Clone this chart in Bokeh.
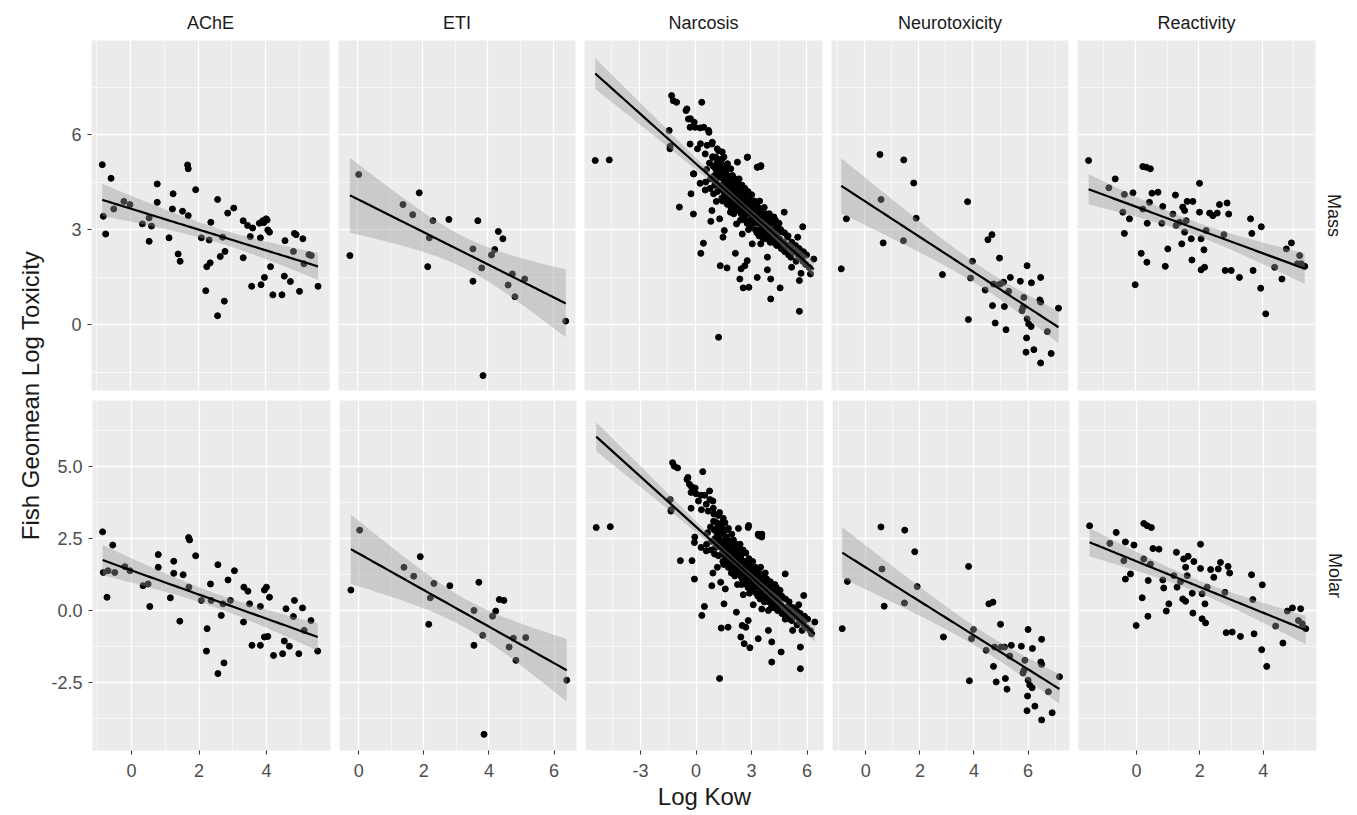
import math
import numpy as np
from bokeh.plotting import figure
from bokeh.layouts import row, column
from bokeh.models import Range1d, FixedTicker, PrintfTickFormatter, Title, LinearAxis, Grid
from bokeh.embed import file_html
from bokeh.resources import INLINE
from bokeh.core.properties import value

FONT = "Liberation Sans"

# ---------------- data ----------------
categories = ["AChE", "ETI", "Narcosis", "Neurotoxicity", "Reactivity"]
row_labels = ["Mass", "Molar"]
x_title = "Log Kow"
y_title = "Fish Geomean Log Toxicity"

ache_mass_x = [-0.84, -0.58, -0.81, -0.74, -0.5, -0.2, -0.02, 0.35, 0.55, 0.62,
               0.55, 0.79, 0.79, 1.14, 1.26, 1.24, 1.41, 1.47, 1.54, 1.71,
               1.69, 1.71, 1.93, 2.1, 2.23, 2.26, 2.36, 2.33, 2.38, 2.58,
               2.58, 2.66, 2.8, 2.78, 2.73, 2.88, 3.06, 3.34, 3.34, 3.47,
               3.55, 3.59, 3.62, 3.82, 3.87, 3.85, 3.97, 3.92, 4.02, 4.07,
               4.12, 4.15, 4.22, 4.49, 4.56, 4.58, 4.74, 4.83, 4.86, 4.91,
               5.01, 5.11, 5.14, 5.29, 5.36, 5.56, 4.05, 3.95]
ache_mass_y = [5.05, 4.62, 3.42, 2.86, 3.65, 3.89, 3.79, 3.18, 3.37, 3.11,
               2.63, 4.44, 3.86, 2.74, 4.13, 3.65, 2.23, 2.0, 3.58, 3.44,
               5.04, 4.92, 4.26, 2.74, 1.07, 1.83, 1.95, 2.67, 3.23, 3.95,
               0.28, 2.15, 2.31, 0.74, 2.76, 3.52, 3.68, 3.28, 2.11, 3.13,
               2.78, 1.21, 3.05, 3.2, 1.26, 2.74, 1.49, 3.28, 3.34, 2.99,
               2.92, 1.83, 0.94, 0.94, 1.53, 2.65, 1.36, 2.31, 2.88, 2.84,
               1.05, 2.71, 1.92, 2.21, 2.18, 1.21, 3.3, 3.22]
ache_molar_x = [-0.86, -0.56, -0.73, -0.84, -0.7, -0.5, -0.2, -0.05, 0.34, 0.49,
                0.54, 0.79, 0.79, 1.15, 1.25, 1.25, 1.43, 1.53, 1.69, 1.9,
                1.7, 2.07, 2.22, 2.24, 2.34, 2.36, 2.56, 2.56, 2.66, 2.74,
                2.71, 2.86, 2.93, 3.05, 3.32, 3.33, 3.45, 3.5, 3.57, 3.82,
                3.82, 3.94, 4.0, 4.09, 4.04, 3.94, 4.21, 4.48, 4.53, 4.58,
                4.68, 4.8, 4.83, 4.96, 5.07, 5.12, 5.32, 5.52, 1.72]
ache_molar_y = [2.73, 2.27, 0.46, 1.32, 1.38, 1.32, 1.52, 1.38, 0.86, 0.92,
                0.14, 1.94, 1.5, 0.44, 1.71, 1.29, -0.37, 1.24, 2.53, 1.9,
                0.81, 0.35, -1.41, -0.63, 0.92, 0.35, 1.59, -2.19, -0.17, -1.82,
                0.23, 1.06, 0.35, 1.38, -0.4, 0.81, 0.67, 0.23, -1.21, -1.21,
                0.14, 0.71, 0.81, 0.46, -0.9, -0.92, -1.56, -1.5, -1.06, 0.06,
                -1.24, -0.21, 0.35, -1.5, 0.09, -0.69, -0.35, -1.41, 2.45]

eti_x = [-0.24, 0.03, 1.39, 1.69, 1.89, 2.15, 2.2, 2.31, 2.8, 3.54,
         3.54, 3.69, 3.81, 3.85, 4.11, 4.21, 4.32, 4.46, 4.62, 4.75,
         4.83, 5.13, 6.39]
eti_mass = [2.18, 4.74, 3.79, 3.47, 4.16, 1.83, 2.74, 3.28, 3.32, 1.37,
            2.39, 3.28, 1.79, -1.61, 2.2, 2.37, 2.94, 2.71, 1.25, 1.6,
            0.88, 1.44, 0.11]
eti_molar = [0.71, 2.79, 1.5, 1.19, 1.87, -0.48, 0.44, 0.94, 0.86, -1.21,
             0.0, 0.98, -0.86, -4.3, -0.2, -0.02, 0.38, 0.35, -1.27, -0.96,
             -1.73, -0.94, -2.42]

narc_outer_x = [-5.4, -4.64, -1.36, -1.4, -1.27, -1.18, -1.0, 0.36, -0.49, -0.36,
                -0.27, -0.05, 0.27, 0.73, -0.27, 0.13, 0.55, 0.91, 0.96, 1.27,
                1.45, 2.82, 3.36, 3.55, -0.09, 0.27, 0.55, -0.22, -0.85, -0.09,
                1.0, 1.15, 0.91, 0.85, 1.33, 0.45, 0.31, 1.58, 1.51, 1.36,
                1.73, 2.18, 2.49, 2.42, 2.6, 2.91, 2.69, 2.82, 3.36, 3.91,
                3.91, 4.09, 4.09, 4.6, 5.18, 5.22, 5.64, 5.64, 5.73, 6.24,
                6.42, 5.82, 5.55, 4.82, 1.27, 2.24, 2.55, 3.09, 3.55, 4.64,
                4.82, 5.0, 1.91, 2.0]
narc_outer_mass = [5.18, 5.2, 5.55, 6.13, 7.23, 7.07, 7.02, 7.02, 6.76, 6.49,
                   6.23, 6.39, 6.21, 6.13, 5.7, 5.55, 5.39, 5.7, 5.28, 5.49,
                   5.23, 5.28, 4.97, 4.99, 4.76, 4.46, 4.25, 4.13, 3.71, 3.49,
                   4.13, 3.89, 3.6, 3.26, 3.34, 2.57, 2.25, 2.97, 2.76, 1.86,
                   1.79, 2.25, 1.76, 1.44, 1.16, 1.18, 1.86, 2.02, 1.49, 2.13,
                   1.73, 1.44, 0.81, 1.16, 2.13, 1.81, 1.39, 0.42, 1.62, 1.6,
                   2.07, 3.09, 2.76, 3.55, -0.4, 3.18, 2.86, 2.55, 2.55, 2.55,
                   2.34, 2.76, 3.55, 3.81]
narc_outer_molar = [2.88, 2.91, 3.45, 3.85, 5.13, 5.01, 4.95, 4.82, 4.55, 4.38,
                    4.1, 4.25, 4.0, 4.15, 3.55, 3.8, 3.69, 3.8, 3.35, 3.4,
                    3.1, 2.88, 2.65, 2.55, 2.36, 2.19, 2.07, 1.73, 1.73, 1.09,
                    1.96, 1.5, 1.3, 0.86, 0.98, 0.14, -0.17, 0.75, 0.23, -0.61,
                    -0.58, -0.06, -0.52, -0.92, -1.15, -1.29, -0.58, -0.35, -0.98, 0.0,
                    -0.69, -1.09, -1.79, -1.44, -0.35, -0.69, -1.27, -2.02, -0.69, -0.81,
                    -0.4, 0.52, 0.2, 1.27, -2.36, 0.9, 0.55, 0.2, 0.05, -0.1,
                    -0.3, 0.15, 1.3, 1.55]

narc_upper_x = [-0.44, -0.25, 0.0, 0.47, 0.75, 0.93, 0.65, 1.2, 1.47, 1.56,
                1.11, 1.38, 1.75, 1.93, 2.29, 2.84, 3.38, 3.56, 2.02, 2.38,
                1.65, 0.29, -0.07, -1.35]
narc_upper_mass = [6.81, 6.5, 6.23, 6.23, 6.07, 5.76, 5.66, 5.55, 5.45, 5.29,
                   5.29, 5.13, 5.08, 4.92, 5.13, 5.29, 4.97, 5.02, 4.71, 4.6,
                   4.81, 5.71, 4.76, 5.63]
narc_upper_molar = [4.62, 4.3, 4.05, 4.0, 3.85, 3.55, 3.45, 3.3, 3.2, 3.05,
                    3.05, 2.9, 2.85, 2.65, 2.85, 2.95, 2.6, 2.65, 2.45, 2.3,
                    2.55, 3.5, 2.55, 3.5]

narc_core_x = [0.62, 0.57, 0.78, 0.84, 0.81, 0.98, 1.03, 1.06, 0.95, 1.12, 1.09,
               1.18, 1.23, 1.21, 1.16, 1.33, 1.28, 1.31, 1.38, 1.42, 1.45, 1.36,
               1.52, 1.47, 1.55, 1.49, 1.58, 1.63, 1.61, 1.66,
               1.72, 1.68, 1.74, 1.69, 1.76, 1.79, 1.83, 1.81, 1.77,
               1.92, 1.88, 1.94, 1.86, 1.98, 2.03, 2.01, 2.06, 1.96,
               2.12, 2.08, 2.14, 2.09, 2.18, 2.23, 2.21, 2.26, 2.17,
               2.32, 2.28, 2.34, 2.29, 2.38, 2.43, 2.41, 2.46,
               2.52, 2.48, 2.54, 2.49, 2.56, 2.58, 2.63, 2.61, 2.66,
               2.72, 2.68, 2.74, 2.69, 2.76, 2.78, 2.83, 2.81, 2.86,
               2.92, 2.88, 2.94, 2.89, 2.96, 2.98, 3.03, 3.01, 3.06, 2.97,
               3.12, 3.08, 3.14, 3.09, 3.18, 3.23, 3.21, 3.26, 3.17,
               3.32, 3.28, 3.34, 3.29, 3.38, 3.43, 3.41, 3.46, 3.37,
               3.52, 3.48, 3.54, 3.49, 3.58, 3.63, 3.61, 3.66,
               3.72, 3.68, 3.74, 3.69, 3.78, 3.83, 3.81, 3.86,
               3.92, 3.88, 3.94, 3.89, 3.98, 4.03, 4.01, 4.06,
               4.12, 4.08, 4.14, 4.18, 4.23, 4.21, 4.26,
               4.32, 4.28, 4.34, 4.38, 4.43, 4.41, 4.52, 4.48, 4.54,
               4.58, 4.63, 4.66, 4.78, 4.83, 4.86, 4.98, 5.03, 5.06,
               5.18, 5.23, 5.38, 5.43, 5.46, 5.58, 5.63,
               5.78, 5.83, 5.86, 5.98, 6.03, 6.18]
narc_core_mass = [4.9, 4.5, 5.1, 4.6, 4.3, 5.0, 4.7, 4.4, 5.3, 4.9, 4.5,
                  5.1, 4.8, 4.2, 4.6, 4.4, 4.9, 5.2, 4.7, 4.3, 4.0, 5.0,
                  4.6, 4.9, 4.2, 3.9, 4.5, 4.8, 4.1, 4.4,
                  4.3, 4.6, 3.8, 5.0, 4.0, 4.5, 4.2, 3.9, 4.7,
                  4.4, 4.1, 3.7, 4.6, 4.3, 4.0, 4.5, 3.6, 4.1,
                  4.2, 3.9, 4.4, 3.5, 4.1, 4.4, 3.8, 3.6, 4.6,
                  4.0, 3.7, 4.3, 4.5, 3.9, 4.2, 3.6, 3.3,
                  4.0, 3.7, 4.4, 3.5, 3.9, 3.8, 4.1, 3.4, 3.6,
                  3.7, 4.0, 3.3, 4.3, 3.9, 3.9, 3.6, 3.2, 4.2,
                  3.8, 3.5, 4.0, 3.0, 3.7, 3.6, 3.9, 3.3, 4.1, 3.1,
                  3.5, 3.8, 3.2, 3.7, 3.4, 3.7, 3.9, 3.0, 3.5,
                  3.6, 3.3, 2.9, 3.8, 3.5, 3.2, 3.7, 2.8, 3.4,
                  3.3, 3.6, 3.0, 3.9, 3.2, 3.5, 2.9, 3.4,
                  3.4, 3.1, 3.7, 2.7, 3.3, 3.0, 3.5, 2.8,
                  3.1, 3.4, 2.7, 3.0, 3.2, 2.9, 3.5, 2.6,
                  3.0, 3.3, 2.8, 2.9, 3.2, 2.6, 3.4,
                  3.0, 2.7, 3.3, 2.8, 3.1, 2.5, 2.9, 2.6, 3.2,
                  2.7, 3.0, 2.4, 2.6, 2.9, 2.3, 2.5, 2.8, 2.2,
                  2.4, 2.6, 2.3, 2.5, 2.0, 2.2, 2.4,
                  2.1, 2.0, 2.3, 1.9, 2.2, 1.8]
narc_core_molar = [2.7, 2.3, 2.9, 2.4, 2.1, 2.8, 2.5, 2.2, 3.1, 2.7, 2.2,
                   2.9, 2.6, 1.9, 2.4, 2.2, 2.6, 3.0, 2.4, 2.0, 1.7, 2.8,
                   2.3, 2.7, 1.9, 1.6, 2.2, 2.5, 1.8, 2.1,
                   2.0, 2.3, 1.5, 2.8, 1.7, 2.2, 1.9, 1.6, 2.4,
                   2.1, 1.8, 1.4, 2.3, 2.0, 1.7, 2.2, 1.3, 1.8,
                   1.9, 1.6, 2.1, 1.2, 1.8, 2.1, 1.5, 1.3, 2.3,
                   1.7, 1.4, 2.0, 2.2, 1.6, 1.9, 1.2, 0.9,
                   1.7, 1.3, 2.1, 1.1, 1.5, 1.4, 1.7, 1.0, 1.2,
                   1.3, 1.6, 0.9, 2.0, 1.5, 1.5, 1.2, 0.8, 1.8,
                   1.4, 1.1, 1.6, 0.6, 1.3, 1.2, 1.5, 0.9, 1.7, 0.7,
                   1.1, 1.4, 0.8, 1.3, 1.0, 1.3, 1.5, 0.6, 1.1,
                   1.2, 0.9, 0.5, 1.4, 1.1, 0.8, 1.3, 0.4, 1.0,
                   0.9, 1.2, 0.6, 1.5, 0.8, 1.1, 0.5, 1.0,
                   1.0, 0.7, 1.3, 0.3, 0.9, 0.6, 1.1, 0.4,
                   0.7, 1.0, 0.3, 0.6, 0.7, 0.4, 1.0, 0.1,
                   0.5, 0.8, 0.3, 0.4, 0.7, 0.1, 0.9,
                   0.5, 0.2, 0.8, 0.3, 0.6, 0.0, 0.4, 0.1, 0.7,
                   0.2, 0.5, -0.1, 0.1, 0.4, -0.2, 0.0, 0.3, -0.3,
                   -0.1, 0.1, -0.2, 0.0, -0.5, -0.3, -0.1,
                   -0.4, -0.5, -0.2, -0.6, -0.3, -0.7]

neuro_x = [-0.87, -0.68, 0.56, 0.6, 0.68, 1.44, 1.43, 1.81, 1.9, 2.87,
           3.8, 3.83, 3.91, 3.98, 4.55, 4.7, 4.45, 4.72, 4.76, 4.82,
           4.98, 5.0, 5.13, 5.16, 5.22, 5.32, 5.38, 5.75, 5.81, 5.88,
           6.0, 6.0, 5.98, 5.96, 6.06, 6.15, 6.16, 6.25, 6.47, 6.5,
           6.5, 6.5, 6.75, 6.89, 7.16, 5.85]
neuro_mass = [1.76, 3.34, 5.37, 3.95, 2.58, 5.2, 2.65, 4.47, 3.36, 1.58,
              3.88, 0.16, 1.47, 2.0, 2.68, 2.84, 1.09, 0.6, 1.28, 0.05,
              2.1, 1.28, 1.34, 0.57, -0.16, 1.05, 1.49, 1.37, 0.44, 0.86,
              1.86, 0.18, -0.42, -0.87, 0.02, -0.06, 1.32, -0.79, 0.78, 0.71,
              1.49, -1.21, -0.22, -0.91, 0.52, 0.55]
neuro_molar = [-0.63, 1.01, 2.9, 1.44, 0.15, 2.79, 0.26, 2.04, 0.83, -0.92,
               1.53, -2.44, -0.98, -0.66, 0.23, 0.29, -1.38, -1.94, -1.27, -2.48,
               -0.48, -1.27, -1.27, -2.36, -2.73, -1.58, -1.21, -1.24, -2.17, -1.73,
               -0.66, -2.42, -2.97, -3.48, -2.59, -2.68, -1.32, -3.32, -1.79, -1.87,
               -1.0, -3.8, -2.82, -3.55, -2.3, -2.07]

react_x = [-1.48, -0.64, -0.84, -0.35, -0.08, -0.4, -0.19, -0.35, 0.18, 0.36,
           -0.01, 0.23, 0.34, 0.47, 0.23, 0.44, 0.52, 0.71, 0.37, 0.83,
           0.86, 1.02, 0.94, 1.26, 1.18, 1.28, 1.39, 1.49, 1.55, 1.63,
           1.81, 1.6, 1.55, 1.46, 1.78, 2.02, 2.02, 2.07, 2.16, 2.07,
           2.18, 2.23, 2.34, 2.44, 2.58, 2.65, 2.79, 2.89, 2.94, 2.83,
           3.02, 3.28, 3.63, 3.67, 3.71, 3.97, 3.95, 4.11, 4.39, 4.62,
           4.76, 4.92, 5.18, 5.23, 5.34, 5.11, 1.76]
react_mass = [5.18, 4.6, 4.32, 4.11, 4.16, 3.55, 3.34, 2.88, 2.25, 1.97,
              1.26, 4.99, 4.97, 4.92, 3.65, 3.86, 4.15, 4.18, 3.2, 3.2,
              3.73, 2.39, 1.84, 4.09, 3.49, 3.13, 3.23, 3.71, 3.6, 3.89,
              3.89, 3.28, 2.92, 2.55, 2.04, 4.46, 3.55, 2.71, 2.36, 1.73,
              1.81, 2.97, 3.52, 3.44, 3.52, 3.79, 2.84, 3.84, 3.49, 1.71,
              1.71, 1.49, 3.34, 2.88, 1.71, 3.09, 1.15, 0.34, 1.81, 1.44,
              2.39, 2.58, 2.18, 1.92, 1.84, 1.92, 2.71]
react_molar = [2.94, 2.71, 2.33, 2.38, 2.27, 1.73, 1.27, 1.09, 0.44, -0.2,
               -0.52, 3.02, 2.94, 2.88, 1.79, 1.61, 2.15, 2.13, 1.04, 1.06,
               0.78, 0.23, -0.02, 2.02, 1.21, 0.81, 1.0, 1.79, 1.5, 1.88,
               1.7, 1.21, 0.32, 0.4, -0.09, 2.3, 1.46, 0.58, 0.23, -0.29,
               -0.43, 0.81, 1.42, 1.15, 1.44, 1.67, 0.63, 1.53, 1.3, -0.77,
               -0.75, -0.9, 1.24, 0.38, -0.81, 0.89, -1.36, -1.94, -0.54, -1.13,
               -0.02, 0.09, 0.06, -0.46, -0.63, -0.35, 0.6]

narc_x = narc_outer_x + narc_upper_x + narc_core_x
narc_mass = narc_outer_mass + narc_upper_mass + narc_core_mass
narc_molar = narc_outer_molar + narc_upper_molar + narc_core_molar

panel_data = {
    (0, 0): (ache_mass_x, ache_mass_y), (0, 1): (ache_molar_x, ache_molar_y),
    (1, 0): (eti_x, eti_mass), (1, 1): (eti_x, eti_molar),
    (2, 0): (narc_x, narc_mass), (2, 1): (narc_x, narc_molar),
    (3, 0): (neuro_x, neuro_mass), (3, 1): (neuro_x, neuro_molar),
    (4, 0): (react_x, react_mass), (4, 1): (react_x, react_molar),
}
for k, (a, b) in panel_data.items():
    assert len(a) == len(b), (k, len(a), len(b))

# axis set-up
x_ranges = [(-1.16, 5.9), (-0.59, 6.69), (-5.98, 6.89), (-1.23, 7.53), (-1.83, 5.68)]
x_major = [[0, 2, 4], [0, 2, 4, 6], [-3, 0, 3, 6], [0, 2, 4, 6], [0, 2, 4]]
x_minor = [[-1, 1, 3, 5], [1, 3, 5], [-4.5, -1.5, 1.5, 4.5], [-1, 1, 3, 5, 7], [-1, 1, 3, 5]]
y_ranges = [(-2.08, 8.97), (-4.86, 7.29)]
y_major = [[0, 3, 6], [-2.5, 0, 2.5, 5]]
y_minor = [[-1.5, 1.5, 4.5, 7.5], [-3.75, -1.25, 1.25, 3.75, 6.25]]
y_formats = ["%d", "%.1f"]

FRAME_W = [238, 237, 238, 237, 238]
FRAME_H = 350
TOP_B, GAP, BOT_B = 40, 10, 56
RIGHT_B = 40
TITLE_W = 48
LEFT_B = 43


def t_quantile(df):
    z = 1.959964
    return (z + (z**3 + z) / (4 * df) + (5 * z**5 + 16 * z**3 + 3 * z) / (96 * df**2)
            + (3 * z**7 + 19 * z**5 + 17 * z**3 - 15 * z) / (384 * df**3))


def lm_fit(x, y, npts=80):
    x = np.asarray(x, float)
    y = np.asarray(y, float)
    n = len(x)
    b, a = np.polyfit(x, y, 1)
    xs = np.linspace(x.min(), x.max(), npts)
    yh = a + b * xs
    res = y - (a + b * x)
    s = math.sqrt((res ** 2).sum() / (n - 2))
    sxx = ((x - x.mean()) ** 2).sum()
    se = s * np.sqrt(1.0 / n + (xs - x.mean()) ** 2 / sxx)
    t = t_quantile(n - 2)
    return xs, yh, yh - t * se, yh + t * se


def style_axis(ax, standoff):
    ax.axis_line_color = None
    ax.major_tick_line_color = "#333333"
    ax.major_tick_line_width = 1.1
    ax.major_tick_out = 4
    ax.major_tick_in = 0
    ax.minor_tick_line_color = None
    ax.major_label_text_font = FONT
    ax.major_label_text_font_size = "18px"
    ax.major_label_text_color = "#4d4d4d"
    ax.major_label_standoff = standoff


def make_panel(ci, ri):
    p = figure(frame_width=FRAME_W[ci], frame_height=FRAME_H,
               x_range=Range1d(*x_ranges[ci]), y_range=Range1d(*y_ranges[ri]),
               x_axis_type=None, y_axis_type=None,
               output_backend="svg", toolbar_location=None,
               min_border_left=(LEFT_B if ci == 0 else 0),
               min_border_right=(9 if ci < 4 else RIGHT_B),
               min_border_top=(TOP_B if ri == 0 else 0),
               min_border_bottom=(GAP if ri == 0 else BOT_B))
    p.background_fill_color = "#EBEBEB"
    p.border_fill_color = "white"
    p.outline_line_color = None

    xt = FixedTicker(ticks=x_major[ci], minor_ticks=x_minor[ci])
    yt = FixedTicker(ticks=y_major[ri], minor_ticks=y_minor[ri])
    for dim, tk in ((0, xt), (1, yt)):
        g = Grid(dimension=dim, ticker=tk, grid_line_color="white", grid_line_width=1.3,
                 minor_grid_line_color="white", minor_grid_line_width=0.6)
        p.add_layout(g)

    if ri == 1:
        ax = LinearAxis(ticker=xt, formatter=PrintfTickFormatter(format="%d"))
        style_axis(ax, 9)
        if ci == 2:
            ax.axis_label = x_title
            ax.axis_label_text_font = FONT
            ax.axis_label_text_font_size = "24px"
            ax.axis_label_text_font_style = "normal"
            ax.axis_label_text_color = "#1a1a1a"
            ax.axis_label_standoff = 3
        p.add_layout(ax, "below")
    if ci == 0:
        ay = LinearAxis(ticker=yt, formatter=PrintfTickFormatter(format=y_formats[ri]))
        style_axis(ay, 6)
        p.add_layout(ay, "left")

    if ri == 0:
        p.add_layout(Title(text=categories[ci], align="center", text_font=FONT,
                           text_font_size="18px", text_font_style="normal",
                           text_color="#1a1a1a", standoff=16), "above")
    if ci == 4:
        p.add_layout(Title(text=row_labels[ri], align="center", text_font=FONT,
                           text_font_size="18px", text_font_style="normal",
                           text_color="#1a1a1a", standoff=17), "right")

    xs, ys = panel_data[(ci, ri)]
    p.scatter(xs, ys, size=6, fill_color="black", line_color="black")
    fx, fy, lo, hi = lm_fit(xs, ys)
    p.varea(x=fx, y1=lo, y2=hi, fill_color="#999999", fill_alpha=0.4)
    p.line(fx, fy, line_color="black", line_width=2.2)
    return p


top = row(*[make_panel(c, 0) for c in range(5)])
bottom = row(*[make_panel(c, 1) for c in range(5)])

H = TOP_B + FRAME_H + GAP + FRAME_H + BOT_B
tp = figure(width=TITLE_W, height=H, x_range=Range1d(0, TITLE_W), y_range=Range1d(0, H),
            x_axis_type=None, y_axis_type=None, min_border=0,
            output_backend="svg", toolbar_location=None)
tp.outline_line_color = None
tp.background_fill_color = "white"
tp.text(x=[30], y=[H - 395], text=[y_title], angle=math.pi / 2,
        text_align="center", text_baseline="middle", text_font=value(FONT),
        text_font_size="24px", text_color="#1a1a1a")

layout = row(tp, column(top, bottom))
open("out.html", "w").write(file_html(layout, INLINE))
